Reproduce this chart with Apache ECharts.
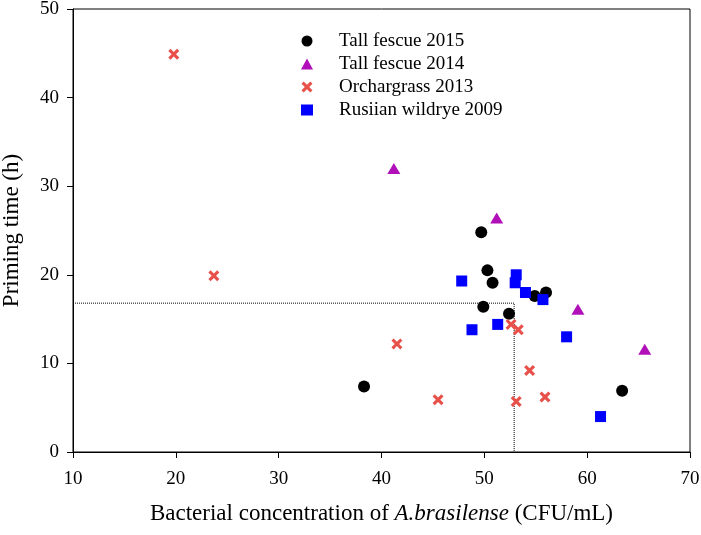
<!DOCTYPE html>
<html lang="en">
<head>
    <meta charset="UTF-8">
    <title>Priming time</title>
    <style>
        html, body { margin: 0; padding: 0; background: #fff; }
    </style>
</head>
<body>
<div id="main" style="width: 701px;height:535px;"></div>
<script src="https://cdn.jsdelivr.net/npm/echarts@6/dist/echarts.min.js"></script>
<script>
    // series data [concentration, priming time]
    var tallFescue2015 = [[38.3, 7.4], [49.7, 24.8], [50.3, 20.5], [50.8, 19.1], [49.9, 16.4],
        [52.4, 15.6], [54.9, 17.6], [56.0, 18.0], [63.4, 6.9]];
    var tallFescue2014 = [[41.2, 32.0], [51.2, 26.4], [59.1, 16.1], [65.6, 11.6]];
    var orchargrass2013 = [[19.8, 44.9], [23.7, 19.9], [41.5, 12.2], [45.5, 5.9], [52.6, 14.4],
        [53.3, 13.8], [54.4, 9.2], [53.1, 5.7], [55.9, 6.2]];
    var wildrye2009 = [[47.8, 19.3], [53.1, 20.0], [53.0, 19.1], [54.0, 18.0], [55.7, 17.2],
        [48.8, 13.8], [51.3, 14.4], [58.0, 13.0], [61.3, 4.0]];
    // dotted guide line
    var refLine = [[10, 16.8], [52.9, 16.8], [52.9, 0]];

    var names = ['Tall fescue 2015', 'Tall fescue 2014', 'Orchargrass 2013', 'Rusiian wildrye 2009'];
    var colors = ['#000000', '#b10fb8', '#e8504a', '#0000ff'];
    var crossPath = 'path://M2,0 L5,3 L8,0 L10,2 L7,5 L10,8 L8,10 L5,7 L2,10 L0,8 L3,5 L0,2 Z';

    var font = 'Liberation Serif';
    var myChart = echarts.init(document.getElementById('main'));

    var option = {
        animation: false,
        color: colors,
        textStyle: { fontFamily: font },
        grid: {
            left: 73, right: 11, top: 9, bottom: 83,
            containLabel: false,
            outerBoundsMode: 'none',
            show: true, borderColor: '#000', borderWidth: 1
        },
        legend: {
            data: names,
            orient: 'vertical',
            left: 296,
            top: 26,
            itemGap: 3,
            itemWidth: 12,
            itemHeight: 11,
            textStyle: { fontFamily: font, fontSize: 19, lineHeight: 20, color: '#000', padding: [0, 0, 0, 21] }
        },
        xAxis: {
            type: 'value',
            min: 10, max: 70, interval: 10,
            name: '{a|Bacterial concentration of }{b|A.brasilense}{a| (CFU/mL)}',
            nameLocation: 'middle',
            nameGap: 50,
            nameTextStyle: {
                rich: {
                    a: { fontFamily: font, fontSize: 23, color: '#000' },
                    b: { fontFamily: font, fontSize: 23, color: '#000', fontStyle: 'italic' }
                }
            },
            axisLine: { lineStyle: { color: '#000', width: 1 } },
            axisTick: { inside: false, length: 6, lineStyle: { color: '#000' } },
            axisLabel: { fontFamily: font, fontSize: 19, color: '#000', margin: 18 },
            splitLine: { show: false }
        },
        yAxis: {
            type: 'value',
            min: 0, max: 50, interval: 10,
            name: 'Priming time (h)',
            nameLocation: 'middle',
            nameGap: 50,
            nameTextStyle: { fontFamily: font, fontSize: 23, color: '#000' },
            axisLine: { show: true, lineStyle: { color: '#000', width: 1 } },
            axisTick: { show: true, inside: false, length: 6, lineStyle: { color: '#000' } },
            axisLabel: { fontFamily: font, fontSize: 19, color: '#000', margin: 14 },
            splitLine: { show: false }
        },
        series: [
            {
                name: 'guide', type: 'line', data: refLine, symbol: 'none', silent: true,
                lineStyle: { color: '#000', width: 1, type: 'dotted' }, z: 1
            },
            {
                name: names[0], type: 'scatter', data: tallFescue2015,
                symbol: 'circle', symbolSize: 12, itemStyle: { color: colors[0], opacity: 1 }
            },
            {
                name: names[1], type: 'scatter', data: tallFescue2014,
                symbol: 'triangle', symbolSize: [13, 11], itemStyle: { color: colors[1], opacity: 1 }
            },
            {
                name: names[2], type: 'scatter', data: orchargrass2013,
                symbol: crossPath, symbolSize: 11, itemStyle: { color: colors[2], opacity: 1 }
            },
            {
                name: names[3], type: 'scatter', data: wildrye2009,
                symbol: 'rect', symbolSize: 11, itemStyle: { color: colors[3], opacity: 1 }
            }
        ]
    };

    myChart.setOption(option);
</script>
</body>
</html>
